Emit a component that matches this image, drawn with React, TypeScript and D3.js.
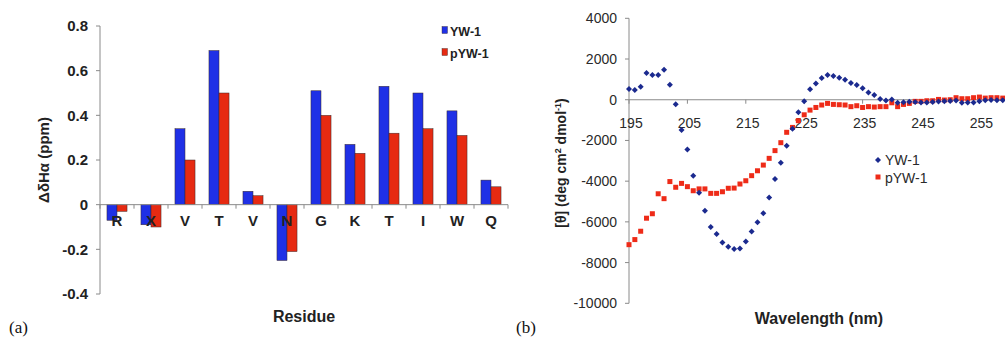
import { useRef, useEffect } from "react";
import * as d3 from "d3";

// panel (a): chemical shift differences per residue
const residues = ["R", "X", "V", "T", "V", "N", "G", "K", "T", "I", "W", "Q"];
const yw1Shift = [-0.07, -0.09, 0.34, 0.69, 0.06, -0.25, 0.51, 0.27, 0.53, 0.5, 0.42, 0.11];
const pyw1Shift = [-0.03, -0.1, 0.2, 0.5, 0.04, -0.21, 0.4, 0.23, 0.32, 0.34, 0.31, 0.08];
const shiftTicks = [-0.4, -0.2, 0, 0.2, 0.4, 0.6, 0.8];
const shiftTickLabels = ["-0.4", "-0.2", "0", "0.2", "0.4", "0.6", "0.8"];

// panel (b): CD spectra
const wavelengths = [
  195, 196, 197, 198, 199, 200, 201, 202, 203, 204, 205, 206, 207, 208, 209, 210, 211,
  212, 213, 214, 215, 216, 217, 218, 219, 220, 221, 222, 223, 224, 225, 226, 227, 228,
  229, 230, 231, 232, 233, 234, 235, 236, 237, 238, 239, 240, 241, 242, 243, 244, 245,
  246, 247, 248, 249, 250, 251, 252, 253, 254, 255, 256, 257, 258, 259, 260,
];
const yw1Cd = [
  525, 475, 640, 1310, 1220, 1220, 1470, 730, -220, -1490, -2450, -3730, -4570, -5450,
  -6250, -6600, -7010, -7220, -7330, -7310, -6960, -6470, -6020, -5580, -4800, -3900,
  -3100, -2260, -1430, -620, -80, 510, 800, 1070, 1210, 1160, 1080, 980, 820, 720, 560,
  360, 230, 35, -35, 15, -150, -120, -100, -110, -130, -140, -110, -90, -80, -60, -40,
  -150, -130, -140, -80, -20, -10, -30, -20, 0,
];
const pyw1Cd = [
  -7120, -6870, -6460, -5820, -5600, -4620, -4860, -4020, -4300, -4110, -4270, -4470,
  -4380, -4380, -4600, -4600, -4520, -4350, -4340, -4140, -3980, -3730, -3490, -3210,
  -2880, -2500, -2110, -1600, -1360, -1030, -740, -510, -380, -260, -180, -230, -245,
  -260, -340, -295, -380, -340, -360, -340, -340, -150, -340, -230, -180, -80, -80, -50,
  -50, 15, -15, 0, 100, 50, 50, 100, 130, 80, 100, 100, 80, 90,
];
const cdYTicks = [-10000, -8000, -6000, -4000, -2000, 0, 2000, 4000];
const cdXTicks = [195, 205, 215, 225, 235, 245, 255];

const width = 1005;
const height = 337;
const font = "'Liberation Sans', Arial, sans-serif";
const axisColor = "#8a8a8a";
const barBlue = "#1f30e6";
const barRed = "#e62a12";
const dotBlue = "#1b2a8f";
const dotRed = "#ee2b18";

const App = () => {
  const svgRef = useRef<SVGSVGElement>(null);

  useEffect(() => {
    const svg = d3.select(svgRef.current);
    svg.selectAll("*").remove();

    // ---------- panel (a) ----------
    const a = svg.append("g");
    const x = d3
      .scaleBand<number>()
      .domain(residues.map((_, i) => i))
      .range([100, 508])
      .paddingInner(0.41)
      .paddingOuter(0.205);
    const xs = d3.scaleBand().domain(["YW-1", "pYW-1"]).range([0, x.bandwidth()]);
    const y = d3.scaleLinear().domain([-0.4, 0.8]).range([294, 26]);

    const series = [
      { key: "YW-1", values: yw1Shift, color: barBlue },
      { key: "pYW-1", values: pyw1Shift, color: barRed },
    ];
    series.forEach((s) => {
      a.append("g")
        .selectAll("rect")
        .data(s.values)
        .enter()
        .append("rect")
        .attr("x", (_, i) => x(i)! + xs(s.key)!)
        .attr("y", (d) => y(Math.max(0, d)))
        .attr("width", xs.bandwidth())
        .attr("height", (d) => Math.abs(y(d) - y(0)))
        .attr("fill", s.color)
        .attr("stroke", "#3a2a2a")
        .attr("stroke-width", 0.5);
    });

    // y axis
    a.append("line")
      .attr("x1", 100).attr("x2", 100)
      .attr("y1", y(0.8)).attr("y2", y(-0.4))
      .attr("stroke", axisColor);
    shiftTicks.forEach((t, i) => {
      a.append("line")
        .attr("x1", 96).attr("x2", 100)
        .attr("y1", y(t)).attr("y2", y(t))
        .attr("stroke", axisColor);
      a.append("text")
        .attr("x", 88)
        .attr("y", y(t))
        .attr("dy", "0.36em")
        .attr("text-anchor", "end")
        .attr("font-family", font)
        .attr("font-weight", "bold")
        .attr("font-size", 15)
        .attr("fill", "#222")
        .text(shiftTickLabels[i]);
    });

    // x axis along zero
    a.append("line")
      .attr("x1", 100).attr("x2", 508)
      .attr("y1", y(0)).attr("y2", y(0))
      .attr("stroke", axisColor);
    d3.range(residues.length + 1).forEach((i) => {
      const tx = 100 + i * x.step();
      a.append("line")
        .attr("x1", tx).attr("x2", tx)
        .attr("y1", y(0)).attr("y2", y(0) + 4)
        .attr("stroke", axisColor);
    });
    a.append("g")
      .selectAll("text")
      .data(residues)
      .enter()
      .append("text")
      .attr("x", (_, i) => x(i)! + x.bandwidth() / 2)
      .attr("y", 226)
      .attr("text-anchor", "middle")
      .attr("font-family", font)
      .attr("font-weight", "bold")
      .attr("font-size", 15)
      .attr("fill", "#222")
      .text((d) => d);

    a.append("text")
      .attr("transform", "translate(49,160) rotate(-90)")
      .attr("text-anchor", "middle")
      .attr("font-family", font)
      .attr("font-weight", "bold")
      .attr("font-size", 15)
      .attr("fill", "#222")
      .text("ΔδHα (ppm)");
    a.append("text")
      .attr("x", 304)
      .attr("y", 322)
      .attr("text-anchor", "middle")
      .attr("font-family", font)
      .attr("font-weight", "bold")
      .attr("font-size", 16)
      .attr("fill", "#222")
      .text("Residue");

    // legend (a)
    series.forEach((s, i) => {
      const ly = 30 + i * 22;
      a.append("rect")
        .attr("x", 442).attr("y", ly - 3.5)
        .attr("width", 5.5).attr("height", 7)
        .attr("fill", s.color)
        .attr("stroke", "#3a2a2a").attr("stroke-width", 0.4);
      a.append("text")
        .attr("x", 450).attr("y", ly + 1)
        .attr("dy", "0.36em")
        .attr("font-family", font)
        .attr("font-weight", "bold")
        .attr("font-size", 12.5)
        .attr("fill", "#222")
        .text(s.key);
    });

    // ---------- panel (b) ----------
    const b = svg.append("g");
    const wx = d3.scaleLinear().domain([195, 260]).range([629, 1008.6]);
    const wy = d3.scaleLinear().domain([-10000, 4000]).range([303.3, 18.3]);

    b.append("line")
      .attr("x1", 629).attr("x2", 629)
      .attr("y1", wy(4000)).attr("y2", wy(-10000))
      .attr("stroke", axisColor);
    cdYTicks.forEach((t) => {
      b.append("line")
        .attr("x1", 625).attr("x2", 629)
        .attr("y1", wy(t)).attr("y2", wy(t))
        .attr("stroke", axisColor);
      b.append("text")
        .attr("x", 617)
        .attr("y", wy(t))
        .attr("dy", "0.36em")
        .attr("text-anchor", "end")
        .attr("font-family", font)
        .attr("font-size", 14)
        .attr("fill", "#2a2a2a")
        .text(t);
    });
    b.append("line")
      .attr("x1", 629).attr("x2", width)
      .attr("y1", wy(0)).attr("y2", wy(0))
      .attr("stroke", axisColor)
      .attr("stroke-width", 1.2);
    cdXTicks.forEach((t) => {
      b.append("line")
        .attr("x1", wx(t)).attr("x2", wx(t))
        .attr("y1", wy(0)).attr("y2", wy(0) + 4)
        .attr("stroke", axisColor);
      b.append("text")
        .attr("x", wx(t) + 2)
        .attr("y", wy(0) + 23)
        .attr("dy", "0.36em")
        .attr("text-anchor", "middle")
        .attr("font-family", font)
        .attr("font-size", 14)
        .attr("fill", "#2a2a2a")
        .text(t);
    });

    // pYW-1 squares
    b.append("g")
      .selectAll("rect")
      .data(pyw1Cd)
      .enter()
      .append("rect")
      .attr("x", (_, i) => wx(wavelengths[i]) - 2.5)
      .attr("y", (d) => wy(d) - 2.5)
      .attr("width", 5)
      .attr("height", 5)
      .attr("fill", dotRed);

    // YW-1 diamonds (square turned 45 degrees)
    const diamond = "M0,-3L3,0L0,3L-3,0Z";
    b.append("g")
      .selectAll("path")
      .data(yw1Cd)
      .enter()
      .append("path")
      .attr("d", diamond)
      .attr("transform", (d, i) => `translate(${wx(wavelengths[i])},${wy(d)})`)
      .attr("fill", dotBlue);

    // axis titles (b)
    const yt = b.append("text")
      .attr("transform", "translate(566,163) rotate(-90)")
      .attr("text-anchor", "middle")
      .attr("font-family", font)
      .attr("font-weight", "bold")
      .attr("font-size", 14)
      .attr("fill", "#222");
    yt.append("tspan").text("[θ] (deg cm");
    yt.append("tspan").attr("baseline-shift", "super").attr("font-size", 9).text("2");
    yt.append("tspan").text(" dmol");
    yt.append("tspan").attr("baseline-shift", "super").attr("font-size", 9).text("-1");
    yt.append("tspan").text(")");

    b.append("text")
      .attr("x", 819)
      .attr("y", 324)
      .attr("text-anchor", "middle")
      .attr("font-family", font)
      .attr("font-weight", "bold")
      .attr("font-size", 16)
      .attr("fill", "#222")
      .text("Wavelength (nm)");

    // legend (b)
    b.append("path")
      .attr("d", diamond)
      .attr("transform", "translate(878,160)")
      .attr("fill", dotBlue);
    b.append("text")
      .attr("x", 885).attr("y", 160)
      .attr("dy", "0.36em")
      .attr("font-family", font)
      .attr("font-size", 14)
      .attr("fill", "#2a2a2a")
      .text("YW-1");
    b.append("rect")
      .attr("x", 875.5).attr("y", 174.5)
      .attr("width", 5).attr("height", 5)
      .attr("fill", dotRed);
    b.append("text")
      .attr("x", 885).attr("y", 178)
      .attr("dy", "0.36em")
      .attr("font-family", font)
      .attr("font-size", 14)
      .attr("fill", "#2a2a2a")
      .text("pYW-1");

    // panel labels
    [["(a)", 9], ["(b)", 516]].forEach(([t, px]) => {
      svg.append("text")
        .attr("x", px as number)
        .attr("y", 333)
        .attr("font-family", "'Liberation Serif', 'Times New Roman', serif")
        .attr("font-size", 17)
        .attr("fill", "#111")
        .text(t as string);
    });
  }, []);

  return (
    <svg
      ref={svgRef}
      width={width}
      height={height}
      style={{ position: "absolute", left: 0, top: 0, background: "#fff" }}
    ></svg>
  );
};

export default App;
